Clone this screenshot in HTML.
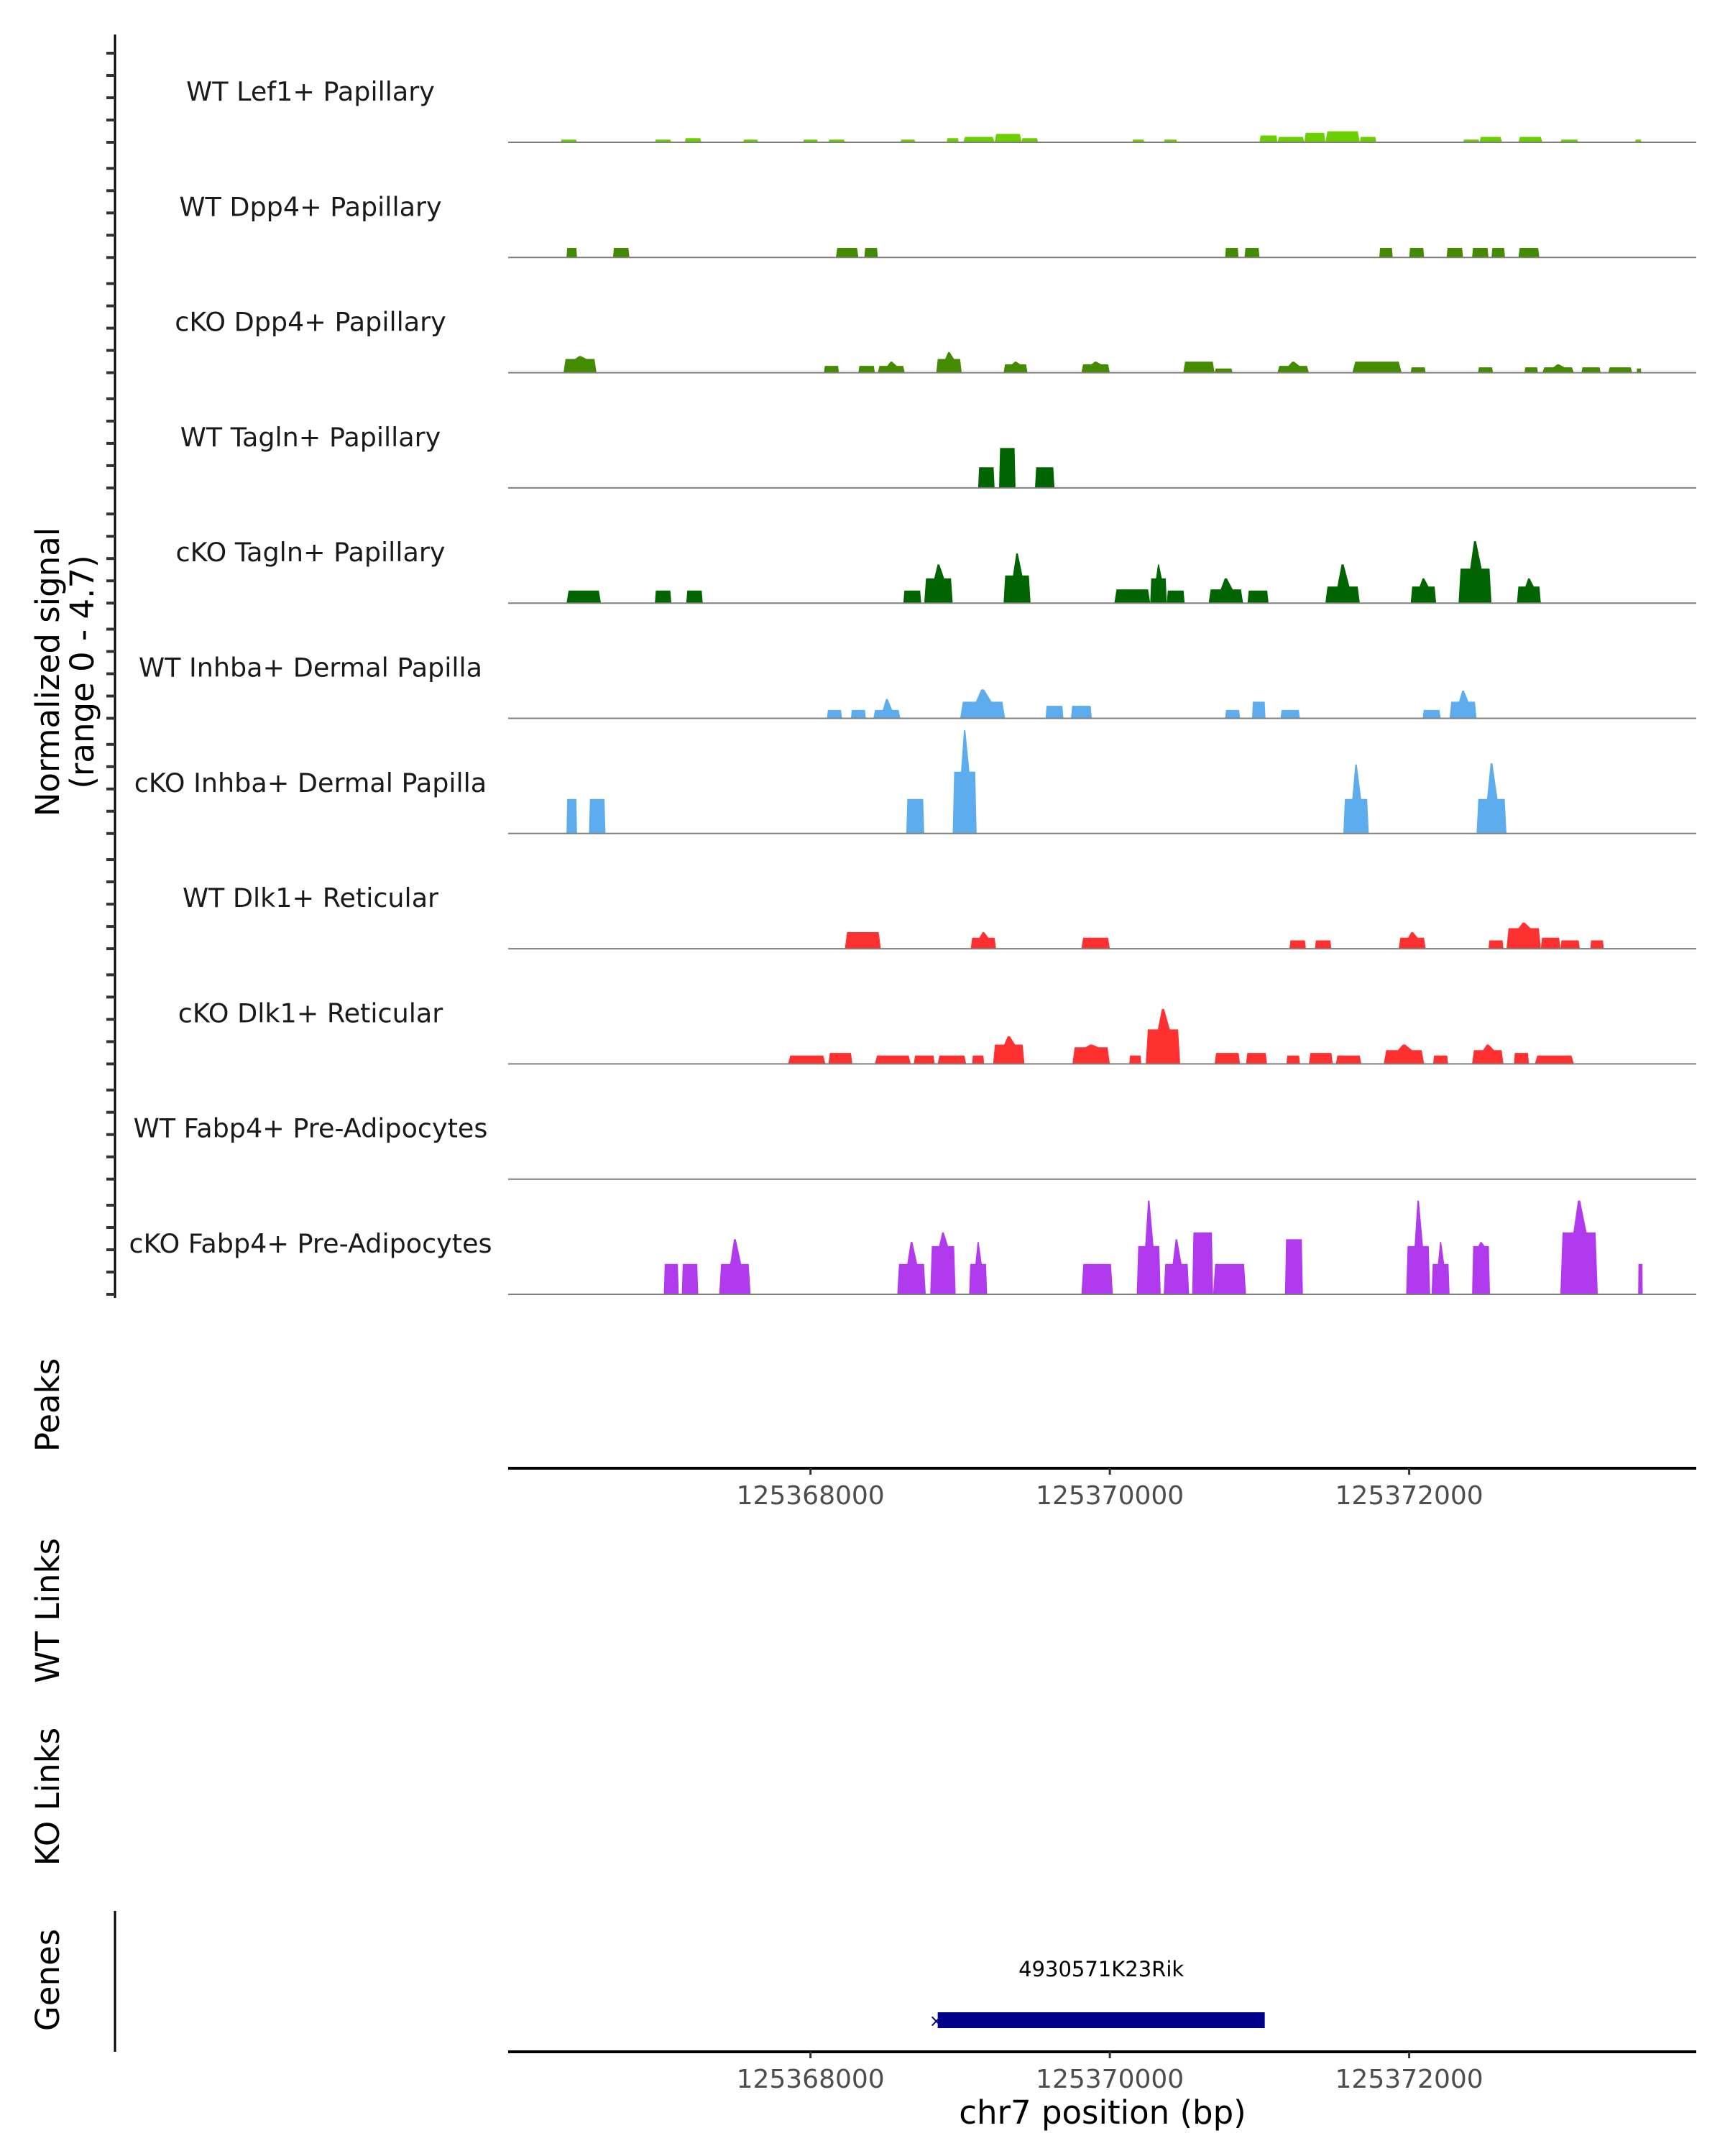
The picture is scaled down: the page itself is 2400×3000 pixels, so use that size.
<!DOCTYPE html>
<html><head><meta charset="utf-8"><style>
html,body{margin:0;padding:0;background:#fff;}
svg{display:block;font-family:"DejaVu Sans","Liberation Sans",sans-serif;}
</style></head><body>
<svg id="chart" width="2400" height="3000" viewBox="0 0 2400 3000" xmlns="http://www.w3.org/2000/svg">
<rect x="0" y="0" width="2400" height="3000" fill="#fff"/>
<g id="left-axis"></g>
<g id="tracks"></g>
<g font-size="45" fill="#000" text-anchor="middle">
<text transform="translate(82,935) rotate(-90)">Normalized signal</text>
<text transform="translate(130,935) rotate(-90)">(range 0 - 4.7)</text>
</g>
<text transform="translate(82,1955) rotate(-90)" font-size="45" text-anchor="middle">Peaks</text>
<text transform="translate(82,2241) rotate(-90)" font-size="45" text-anchor="middle">WT Links</text>
<text transform="translate(82,2500) rotate(-90)" font-size="45" text-anchor="middle">KO Links</text>
<text transform="translate(82,2755) rotate(-90)" font-size="45" text-anchor="middle">Genes</text>
<line x1="160" y1="2659" x2="160" y2="2855" stroke="#000" stroke-width="3"/>
<g id="peak-axis"></g>
<g id="gene-axis"></g>
<g id="genes"></g>
<text x="1534" y="2955" font-size="45" text-anchor="middle">chr7 position (bp)</text>
</svg>
<script>
const regionStart = 125365980;
const regionEnd = 125373918;
const tickValues = [125368000, 125370000, 125372000];
const tickLabels = ["125368000", "125370000", "125372000"];
const trackNames = ["WT Lef1+ Papillary","WT Dpp4+ Papillary","cKO Dpp4+ Papillary","WT Tagln+ Papillary","cKO Tagln+ Papillary","WT Inhba+ Dermal Papilla","cKO Inhba+ Dermal Papilla","WT Dlk1+ Reticular","cKO Dlk1+ Reticular","WT Fabp4+ Pre-Adipocytes","cKO Fabp4+ Pre-Adipocytes"];
const trackColors = ["#6ccf00","#458b00","#458b00","#006400","#006400","#5dadee","#5dadee","#ff3030","#ff3030","#b23aee","#b23aee"];
// blocks: [startKb, endKb, level, peak] (kb offsets from regionStart, values in normalized signal)
const lef1WT = [[0.35,0.46,0.11],[0.98,1.09,0.11],[1.18,1.29,0.17],[1.57,1.67,0.11],[1.97,2.07,0.11],[2.14,2.25,0.11],[2.62,2.72,0.11],[2.93,3.01,0.17],[3.04,3.25,0.22],[3.25,3.43,0.34],[3.43,3.54,0.17],[4.17,4.25,0.11],[4.38,4.47,0.11],[5.02,5.14,0.28],[5.14,5.32,0.22],[5.32,5.46,0.39],[5.46,5.69,0.45],[5.69,5.80,0.22],[6.38,6.49,0.11],[6.49,6.64,0.22],[6.75,6.91,0.22],[7.03,7.15,0.11],[7.53,7.57,0.11]];
const dpp4WT = [[0.39,0.46,0.39],[0.70,0.81,0.39],[2.19,2.34,0.39],[2.38,2.47,0.39],[4.79,4.88,0.39],[4.92,5.02,0.39],[5.82,5.91,0.39],[6.02,6.12,0.39],[6.27,6.38,0.39],[6.44,6.55,0.39],[6.57,6.66,0.39],[6.75,6.89,0.39]];
const dpp4KO = [[0.37,0.59,0.56,0.68],[2.11,2.21,0.28],[2.34,2.45,0.28],[2.47,2.65,0.28,0.45],[2.86,3.03,0.56,0.84],[3.31,3.47,0.34,0.45],[3.83,4.02,0.34,0.45],[4.51,4.72,0.45],[4.72,4.84,0.17],[5.14,5.35,0.28,0.45],[5.64,5.97,0.45],[6.03,6.13,0.22],[6.48,6.58,0.22],[6.79,6.88,0.22],[6.91,7.12,0.22,0.34],[7.17,7.30,0.22],[7.35,7.51,0.22],[7.54,7.57,0.17]];
const taglnWT = [[3.14,3.25,0.84],[3.28,3.39,1.63],[3.52,3.65,0.84]];
const taglnKO = [[0.39,0.62,0.51],[0.98,1.09,0.51],[1.19,1.30,0.51],[2.64,2.76,0.51],[2.78,2.97,1.01,1.58],[3.31,3.49,1.13,2.03],[4.05,4.29,0.56],[4.29,4.40,1.01,1.58],[4.40,4.52,0.51],[4.68,4.91,0.56,1.01],[4.94,5.08,0.51],[5.46,5.69,0.68,1.58],[6.03,6.20,0.68,1.01],[6.35,6.57,1.41,2.53],[6.74,6.90,0.68,1.01]];
const inhbaWT = [[2.13,2.23,0.34],[2.29,2.39,0.34],[2.44,2.62,0.34,0.79],[3.02,3.32,0.68,1.18],[3.59,3.71,0.51],[3.76,3.90,0.51],[4.79,4.89,0.34],[4.97,5.06,0.68],[5.16,5.29,0.34],[6.11,6.23,0.34],[6.29,6.47,0.68,1.13]];
const inhbaKO = [[0.39,0.46,1.41],[0.54,0.65,1.41],[2.66,2.78,1.41],[2.97,3.13,2.53,4.22],[5.58,5.75,1.41,2.82],[6.47,6.67,1.41,2.87]];
const dlk1WT = [[2.25,2.49,0.68],[3.09,3.26,0.45,0.68],[3.83,4.02,0.45],[5.22,5.33,0.34],[5.39,5.50,0.34],[5.95,6.13,0.45,0.68],[6.55,6.65,0.34],[6.67,6.90,0.84,1.07],[6.90,7.03,0.45],[7.03,7.16,0.34],[7.23,7.32,0.34]];
const dlk1KO = [[1.87,2.12,0.34],[2.14,2.30,0.45],[2.45,2.69,0.34],[2.71,2.85,0.34],[2.87,3.06,0.34],[3.10,3.18,0.34],[3.24,3.45,0.79,1.13],[3.77,4.02,0.68,0.79],[4.15,4.23,0.34],[4.26,4.49,1.41,2.25],[4.72,4.89,0.45],[4.93,5.07,0.45],[5.20,5.29,0.34],[5.35,5.51,0.45],[5.53,5.70,0.34],[5.85,6.12,0.56,0.79],[6.18,6.28,0.34],[6.44,6.65,0.56,0.79],[6.72,6.82,0.45],[6.86,7.12,0.34]];
const fabp4WT = [];
const fabp4KO = [[1.04,1.14,1.24],[1.16,1.27,1.24],[1.41,1.62,1.24,2.25],[2.60,2.79,1.24,2.14],[2.82,2.99,1.97,2.53],[3.08,3.20,1.24,2.14],[3.83,4.04,1.24],[4.20,4.36,1.97,3.83],[4.38,4.55,1.24,2.25],[4.57,4.71,2.53],[4.71,4.93,1.24],[5.19,5.31,2.25],[6.00,6.16,1.97,3.83],[6.17,6.29,1.24,2.14],[6.44,6.56,1.97,2.14],[7.03,7.28,2.53,3.83],[7.55,7.58,1.24]];
const trackData = [lef1WT,dpp4WT,dpp4KO,taglnWT,taglnKO,inhbaWT,inhbaKO,dlk1WT,dlk1KO,fabp4WT,fabp4KO];
const geneName = "4930571K23Rik";
const geneStart = 125368850;
const geneEnd = 125371035;
const signalMax = 4.7;

const NS = "http://www.w3.org/2000/svg";
const plotL = 707, plotR = 2360;
const firstBase = 198, trackH = 160.3;
function xScale(bp){ return plotL + (bp - regionStart) * (plotR - plotL) / (regionEnd - regionStart); }
function yScale(v, base){ return base - v * 160 / signalMax; }
function mk(tag, attrs, parent){ const e = document.createElementNS(NS, tag); for (const k in attrs) e.setAttribute(k, attrs[k]); parent.appendChild(e); return e; }

const leftAxis = document.getElementById('left-axis');
const tracksG = document.getElementById('tracks');
const ax = mk('line', {x1:160, y1:48, x2:160, y2:1806, stroke:'#000', 'stroke-width':3}, leftAxis);



trackNames.forEach((name, i) => {
  const base = firstBase + i * trackH;
  const g = mk('g', {}, tracksG);
  
  
  for (let k = 0; k < 5; k++) {
    const t = mk('line', {x1:148, x2:160, y1:base - k*31, y2:base - k*31, stroke:'#333', 'stroke-width':4}, leftAxis);
    
    
  }
  const lbl = mk('text', {x:432, y:base - 58, 'font-size':36.5, 'text-anchor':'middle', fill:'#1a1a1a'}, g);
  lbl.textContent = name;
  
  
  trackData[i].forEach(b => {
    const s = regionStart + b[0]*1000, e = regionStart + b[1]*1000;
    const lv = b[2], pk = b.length > 3 ? b[3] : b[2];
    const x0 = xScale(s), x1 = xScale(e), w = x1 - x0;
    const pts = [[x0, base],[x0 + w*0.06, yScale(lv, base)]];
    if (pk > lv) {
      const c = (x0 + x1) / 2;
      pts.push([c - w*0.15, yScale(lv, base)], [c - w*0.03, yScale(pk, base)], [c + w*0.03, yScale(pk, base)], [c + w*0.2, yScale(lv, base)]);
    }
    pts.push([x1 - w*0.06, yScale(lv, base)], [x1, base]);
    const p = mk('polygon', {points: pts.map(q => q[0].toFixed(1)+','+q[1].toFixed(1)).join(' '), fill: trackColors[i]}, g);
    
    
  });
  const bl = mk('line', {x1:plotL, x2:plotR, y1:base, y2:base, stroke:'#7f7f7f', 'stroke-width':2}, g);
  
  
});

function drawAxis(gid, y) {
  const g = document.getElementById(gid);
  const l = mk('line', {x1:plotL, x2:plotR, y1:y, y2:y, stroke:'#000', 'stroke-width':4}, g);
  
  
  tickValues.forEach((v, j) => {
    const x = xScale(v);
    const t = mk('line', {x1:x, x2:x, y1:y, y2:y + 9, stroke:'#333', 'stroke-width':3}, g);
    
    
    const tx = mk('text', {x:x, y:y + 50, 'font-size':36, 'text-anchor':'middle', fill:'#4d4d4d'}, g);
    tx.textContent = tickLabels[j];
    
    
  });
}
drawAxis('peak-axis', 2043);
drawAxis('gene-axis', 2855);

const gg = document.getElementById('genes');
const gx0 = xScale(geneStart), gx1 = xScale(geneEnd);
const gl = mk('text', {x:(gx0+gx1)/2, y:2750, 'font-size':29, 'text-anchor':'middle', fill:'#000'}, gg);
gl.textContent = geneName;


const gr = mk('rect', {x:gx0, y:2800, width:gx1-gx0, height:22, fill:'#00008b'}, gg);


const gm = mk('text', {x:gx0 - 2, y:2820, 'font-size':24, 'text-anchor':'middle', fill:'#00008b'}, gg);
gm.textContent = '×';


</script>
</body></html>
